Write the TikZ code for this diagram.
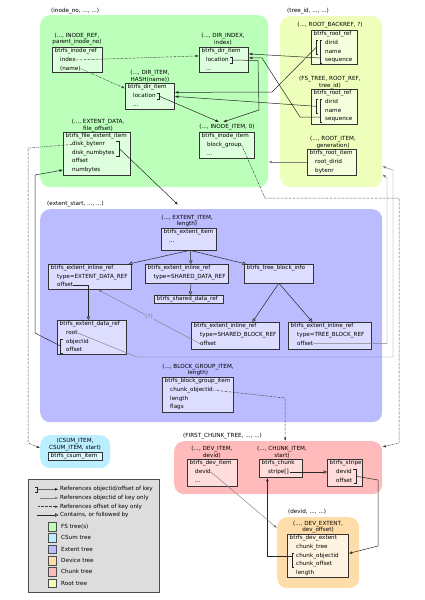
\documentclass[tikz,border=0pt]{standalone}
\usepackage{fontspec}
\setmainfont{DejaVu Sans}
\usetikzlibrary{arrows.meta, positioning, calc}
\definecolor{fsbg}{HTML}{BBFFBB}
\definecolor{fsbox}{HTML}{DDFFDD}
\definecolor{rtbg}{HTML}{EEFFBB}
\definecolor{rtbox}{HTML}{F6FFDD}
\definecolor{exbg}{HTML}{BBBBFF}
\definecolor{exbox}{HTML}{DDDDFF}
\definecolor{csbg}{HTML}{BBEEFF}
\definecolor{csbox}{HTML}{DDF6FF}
\definecolor{chbg}{HTML}{FFBBBB}
\definecolor{chbox}{HTML}{FFDDDD}
\definecolor{dvbg}{HTML}{FFDDAA}
\definecolor{dvbox}{HTML}{FFF4E2}
\definecolor{lgbg}{HTML}{DDDDDD}
\tikzset{
    region/.style={rounded corners=10pt, anchor=north west, inner sep=0},
    sbox/.style={draw=black!80, line width=0.8pt, anchor=north west, inner sep=0},
    fld/.style={anchor=west, inner sep=0, text height=4.2pt, text depth=1.3pt},
    keylbl/.style={align=center, inner sep=0},
    reflbl/.style={anchor=west, inner sep=0},
    swatch/.style={draw=black!70, line width=0.6pt, minimum size=8.5pt, inner sep=0},
    brk/.style={black!85, line width=0.5pt},
    both/.style={->, >={Latex[length=3.5pt, width=2.6pt]}, black!85, line width=0.5pt},
    idonly/.style={->, >={Latex[length=3.5pt, width=2.6pt]}, black!50, line width=0.45pt},
    offonly/.style={->, >={Latex[length=3.5pt, width=2.6pt]}, black!75, line width=0.5pt, dash pattern=on 1.8pt off 0.9pt on 0.5pt off 0.9pt},
    contains/.style={-{Triangle[open, length=3.5pt, width=3.5pt]}, black!85, line width=0.5pt}
}

\begin{document}
\begin{tikzpicture}[x=1pt, y=-1pt, font=\fontsize{5.65}{6.6}\selectfont]
    \useasboundingbox (0,0) rectangle (424,600);
    % Tree regions
    \node[region, fill=fsbg, minimum width=228, minimum height=172] (fs) at (40,15) {};
    \node[region, fill=rtbg, minimum width=102, minimum height=171] (rt) at (280,16) {};
    \node[region, fill=exbg, minimum width=342, minimum height=213] (ex) at (40,209) {};
    \node[region, fill=csbg, minimum width=70, minimum height=33] (cs) at (40,435) {};
    \node[region, fill=chbg, minimum width=208, minimum height=53] (ch) at (174,441) {};
    \node[region, fill=dvbg, minimum width=82, minimum height=71] (dv) at (277,517) {};
    \node[region, sharp corners, fill=lgbg, draw=black!70, line width=0.8pt, minimum width=131, minimum height=113] (lg) at (28,479) {};
    \node[reflbl] (fs-lbl) at (51,11) {(inode\_no, ..., ...)};
    \node[reflbl] (rt-lbl) at (287,11) {(tree\_id, ..., ...)};
    \node[reflbl] (ex-lbl) at (47,204) {(extent\_start, ..., ...)};
    \node[reflbl] (ch-lbl) at (183,436) {(FIRST\_CHUNK\_TREE, ..., ...)};
    \node[reflbl] (dv-lbl) at (288,512) {(devid, ..., ...)};

    % INODE_REF
    \node[keylbl] (iref-k) at (77,39) {(..., INODE\_REF,\\parent\_inode\_no)};
    \node[sbox, fill=fsbox, minimum width=50, minimum height=25] (iref) at (52,47) {};
    \node[fld] (iref-t) at (54.5,51.5) {btrfs\_inode\_ref};
    \node[fld] (iref-index) at (60,60) {index};
    \node[fld] (iref-name) at (60,68.7) {(name)};
    % DIR_INDEX
    \node[keylbl] (dindex-k) at (223,39) {(..., DIR\_INDEX,\\index)};
    \node[sbox, fill=fsbox, minimum width=49, minimum height=25] (dindex) at (199,47) {};
    \node[fld] (dindex-t) at (201.5,51.5) {btrfs\_dir\_item};
    \node[fld] (dindex-loc) at (206,60) {location};
    \node[fld] (dindex-dots) at (206,68.7) {...};
    % DIR_ITEM
    \node[keylbl] (ditem-k) at (150,76) {(..., DIR\_ITEM,\\HASH(name))};
    \node[sbox, fill=fsbox, minimum width=49, minimum height=26] (ditem) at (125,83) {};
    \node[fld] (ditem-t) at (127.5,87.5) {btrfs\_dir\_item};
    \node[fld] (ditem-loc) at (133,96) {location};
    \node[fld] (ditem-dots) at (133,104.7) {...};
    % EXTENT_DATA
    \node[keylbl] (fext-k) at (98,125.5) {(..., EXTENT\_DATA,\\file\_offset)};
    \node[sbox, fill=fsbox, minimum width=67, minimum height=43] (fext) at (63,132) {};
    \node[fld] (fext-t) at (65.5,136) {btrfs\_file\_extent\_item};
    \node[fld] (fext-bytenr) at (72,144.5) {disk\_bytenr};
    \node[fld] (fext-numbytes) at (72,153) {disk\_numbytes};
    \node[fld] (fext-offset) at (72,161.5) {offset};
    \node[fld] (fext-nbytes) at (72,170) {numbytes};
    % INODE_ITEM
    \node[keylbl] (iitem-k) at (227,127) {(..., INODE\_ITEM, 0)};
    \node[sbox, fill=fsbox, minimum width=55, minimum height=26] (iitem) at (199,132) {};
    \node[fld] (iitem-t) at (201.5,136.5) {btrfs\_inode\_item};
    \node[fld] (iitem-bg) at (207,145) {block\_group};
    \node[fld] (iitem-dots) at (207,153.7) {...};

    % ROOT_BACKREF
    \node[keylbl] (rbref-k) at (330,25) {(..., ROOT\_BACKREF, ?)};
    \node[sbox, fill=rtbox, minimum width=46, minimum height=34] (rbref) at (311,30) {};
    \node[fld] (rbref-t) at (313.5,34.5) {btrfs\_root\_ref};
    \node[fld] (rbref-dirid) at (325,43) {dirid};
    \node[fld] (rbref-name) at (325,51.7) {name};
    \node[fld] (rbref-seq) at (325,60.3) {sequence};
    % ROOT_REF
    \node[keylbl] (rref-k) at (330,82.5) {(FS\_TREE, ROOT\_REF,\\tree\_id)};
    \node[sbox, fill=rtbox, minimum width=46, minimum height=35] (rref) at (311,89) {};
    \node[fld] (rref-t) at (313.5,93.5) {btrfs\_root\_ref};
    \node[fld] (rref-dirid) at (325,102) {dirid};
    \node[fld] (rref-name) at (325,110.7) {name};
    \node[fld] (rref-seq) at (325,119.3) {sequence};
    % ROOT_ITEM
    \node[keylbl] (ritem-k) at (333,142.5) {(..., ROOT\_ITEM,\\generation)};
    \node[sbox, fill=rtbox, minimum width=49, minimum height=26] (ritem) at (307,149) {};
    \node[fld] (ritem-t) at (309.5,153.5) {btrfs\_root\_item};
    \node[fld] (ritem-rd) at (315,162) {root\_dirid};
    \node[fld] (ritem-bytenr) at (315,170.7) {bytenr};

    % EXTENT_ITEM
    \node[keylbl] (xitem-k) at (187,221) {(..., EXTENT\_ITEM,\\length)};
    \node[sbox, fill=exbox, minimum width=55, minimum height=22] (xitem) at (161,228) {};
    \node[fld] (xitem-t) at (163.5,232.5) {btrfs\_extent\_item};
    \node[fld] (xitem-dots) at (169,241.5) {...};
    % inline refs
    \node[sbox, fill=exbox, minimum width=83, minimum height=25] (edref) at (48,264) {};
    \node[fld] (edref-t) at (50.5,268.5) {btrfs\_extent\_inline\_ref};
    \node[fld] (edref-type) at (57,277) {type=EXTENT\_DATA\_REF};
    \node[fld] (edref-off) at (57,285.5) {offset};
    \node[sbox, fill=exbox, minimum width=83, minimum height=19] (sdref) at (145,264) {};
    \node[fld] (sdref-t) at (147.5,268.5) {btrfs\_extent\_inline\_ref};
    \node[fld] (sdref-type) at (153.5,277) {type=SHARED\_DATA\_REF};
    \node[sbox, fill=exbox, minimum width=69, minimum height=8] (sdr) at (154,295) {};
    \node[fld] (sdr-t) at (156.5,299) {btrfs\_shared\_data\_ref};
    \node[sbox, fill=exbox, minimum width=69, minimum height=19] (tbinfo) at (244,264) {};
    \node[fld] (tbinfo-t) at (246.5,268.5) {btrfs\_tree\_block\_info};
    \node[sbox, fill=exbox, minimum width=69, minimum height=34] (edr) at (57,320) {};
    \node[fld] (edr-t) at (59.5,324.5) {btrfs\_extent\_data\_ref};
    \node[fld] (edr-root) at (66,333) {root};
    \node[fld] (edr-objid) at (66,341.7) {objectid};
    \node[fld] (edr-off) at (66,350.3) {offset};
    \node[sbox, fill=exbox, minimum width=88, minimum height=27] (sbref) at (191,322) {};
    \node[fld] (sbref-t) at (193.5,326.5) {btrfs\_extent\_inline\_ref};
    \node[fld] (sbref-type) at (200,335) {type=SHARED\_BLOCK\_REF};
    \node[fld] (sbref-off) at (200,343.7) {offset};
    \node[sbox, fill=exbox, minimum width=83, minimum height=27] (tbref) at (288,322) {};
    \node[fld] (tbref-t) at (290.5,326.5) {btrfs\_extent\_inline\_ref};
    \node[fld] (tbref-type) at (297,335) {type=TREE\_BLOCK\_REF};
    \node[fld] (tbref-off) at (297,343.7) {offset};
    % BLOCK_GROUP_ITEM
    \node[keylbl] (bgi-k) at (198,370) {(..., BLOCK\_GROUP\_ITEM,\\length)};
    \node[sbox, fill=exbox, minimum width=71, minimum height=35] (bgi) at (162,377) {};
    \node[fld] (bgi-t) at (164.5,381.5) {btrfs\_block\_group\_item};
    \node[fld] (bgi-cobj) at (170,390) {chunk\_objectid};
    \node[fld] (bgi-len) at (170,398.7) {length};
    \node[fld] (bgi-flags) at (170,407.3) {flags};

    % CSUM_ITEM
    \node[keylbl] (csi-k) at (75,444.5) {(CSUM\_ITEM,\\CSUM\_ITEM, start)};
    \node[sbox, fill=csbox, minimum width=54, minimum height=8] (csi) at (48,452) {};
    \node[fld] (csi-t) at (50.5,456) {btrfs\_csum\_item};

    % DEV_ITEM, CHUNK_ITEM, stripe
    \node[keylbl] (devi-k) at (212,452) {(..., DEV\_ITEM,\\devid)};
    \node[sbox, fill=chbox, minimum width=50, minimum height=27] (devi) at (187,459) {};
    \node[fld] (devi-t) at (189.5,463.5) {btrfs\_dev\_item};
    \node[fld] (devi-devid) at (195,472) {devid};
    \node[fld] (devi-dots) at (195,480.7) {...};
    \node[keylbl] (chk-k) at (282,452) {(..., CHUNK\_ITEM,\\start)};
    \node[sbox, fill=chbox, minimum width=43, minimum height=18] (chk) at (259,459) {};
    \node[fld] (chk-t) at (261.5,463.5) {btrfs\_chunk};
    \node[fld] (chk-stripe) at (268,472) {stripe[]};
    \node[sbox, fill=chbox, minimum width=35, minimum height=27] (strp) at (327,459) {};
    \node[fld] (strp-t) at (329.5,463.5) {btrfs\_stripe};
    \node[fld] (strp-devid) at (336,472) {devid};
    \node[fld] (strp-off) at (336,480.7) {offset};

    % DEV_EXTENT
    \node[keylbl] (dext-k) at (318,527) {(..., DEV\_EXTENT,\\dev\_offset)};
    \node[sbox, fill=dvbox, minimum width=61, minimum height=43] (dext) at (287,534) {};
    \node[fld] (dext-t) at (289.5,538.5) {btrfs\_dev\_extent};
    \node[fld] (dext-ctree) at (296,547) {chunk\_tree};
    \node[fld] (dext-cobj) at (296,555.7) {chunk\_objectid};
    \node[fld] (dext-coff) at (296,564.3) {chunk\_offset};
    \node[fld] (dext-len) at (296,573) {length};

    % Brackets
    \draw[brk] ([xshift=1pt]dindex-loc.north east) -- ++(2,0) |- ([xshift=1pt]dindex-loc.south east);
    \draw[brk] ([xshift=1pt]ditem-loc.north east) -- ++(2,0) |- ([xshift=1pt]ditem-loc.south east);
    \draw[brk] ([xshift=1.5pt]fext-numbytes.east |- fext-bytenr.north) -- ++(3,0) |- ([xshift=1.5pt]fext-numbytes.south east);
    \draw[brk] ([xshift=-7pt]rbref-dirid.north west) -- ++(-2,0) |- ([xshift=-7pt]rbref-name.south west);
    \draw[brk] ([xshift=-3pt]rbref-dirid.north west) -- ++(-2,0) |- ([xshift=-3pt]rbref-seq.south west);
    \draw[brk] ([xshift=-7pt]rref-dirid.north west) -- ++(-2,0) |- ([xshift=-7pt]rref-name.south west);
    \draw[brk] ([xshift=-3pt]rref-dirid.north west) -- ++(-2,0) |- ([xshift=-3pt]rref-seq.south west);
    \draw[brk] ([xshift=-3.5pt]edr-objid.north west) -- ++(-2,0) |- ([xshift=-3.5pt]edr-off.south west);
    \draw[brk] ([xshift=1.5pt]strp-devid.north east) -- ++(3,0) |- ([xshift=1.5pt]strp-off.south east);
    \draw[brk] ([xshift=-2pt]dext-cobj.north west) -- ++(-2,0) |- ([xshift=-2pt]dext-coff.south west);
    \coordinate (fext-b) at (119.4,148.7);
    \coordinate (rbref-b1) at (316,47.5);
    \coordinate (rbref-b2) at (320,58);
    \coordinate (rref-b1) at (316,106.3);
    \coordinate (rref-b2) at (320,117);
    \coordinate (edr-b) at (60.5,346);
    \coordinate (strp-b) at (356.6,476.3);
    \coordinate (dext-b) at (292,556);

    % FS tree references
    \draw[offonly] (iref-index.east) -- ([yshift=4pt]dindex.west);
    \draw[offonly] (iref-name.east) -- ([yshift=8pt]ditem.west);
    \draw[both] ([xshift=3pt]dindex-loc.east) -- (258,60.5) -- (259,110) -- ([xshift=-4pt, yshift=2pt]iitem-k.north);
    \draw[both] ([xshift=3pt]ditem-loc.east) -- ([xshift=-8pt, yshift=2pt]iitem-k.north);
    \draw[both] (fext-b) -- ([xshift=-9pt, yshift=10pt]xitem-k.north);
    \draw[offonly] (fext-bytenr.west) -- (28,148) -- (28,443) -- ([yshift=-13pt]cs.north west);
    \draw[offonly] (iitem-bg.east) -- (265,198) -- (399,198) -- (399,443) -- ([yshift=-6pt]ch.north east);
    % Root tree references
    \draw[both] (rbref-b1) -- (272,92) -- ([yshift=4pt]ditem.east);
    \draw[both] (rbref-b2) -- ([yshift=6pt]dindex.east);
    \draw[both] (rref-b1) -- (ditem.east);
    \draw[both] (rref-b2) -- (300,117) -- (262,58) -- ([yshift=2pt]dindex.east);
    \draw[idonly] (ritem.west |- ritem-rd) -- (fs.east |- ritem-rd);
    % Extent tree references
    \draw[contains] ([xshift=-1pt]xitem.south) -- ([xshift=-3pt]edref.north east);
    \draw[contains] ([xshift=1.5pt]xitem.south) -- ([xshift=4pt]sdref.north);
    \draw[contains] ([xshift=3pt]xitem.south) -- ([xshift=2pt]tbinfo.north west);
    \draw[contains] ([xshift=4pt]sdref.south) -- ([xshift=1.5pt]sdr.north);
    \draw[contains] ([xshift=-0.5pt]tbinfo.south) -- ([xshift=17pt]sbref.north);
    \draw[contains] ([xshift=0.5pt]tbinfo.south) -- ([xshift=-17.5pt]tbref.north);
    \draw[contains] (edref-off.east) -| ([xshift=-3.5pt]edr.north);
    \draw[both] (edr-b) -- (35,333) -- (35,175) -- (fext.west |- fext-nbytes);
    \draw[idonly] (edr-root.east) -- (137,357) -- (393,357) -- (393,170) -- ([yshift=21pt]rt.south east);
    \draw[idonly] (tbref-off.east) -- (387,343.7) -- (387,178) -- ([yshift=13pt]rt.south east);
    \draw[idonly] (sbref-off.west) -- node[fill=exbg, inner sep=0.6pt] (q-lbl) {(?)} ([xshift=8.5pt]edref.south);
    \draw[offonly] (bgi-cobj.east) -- (285,398) -- ([xshift=7pt]ch.north);
    % Chunk and device tree references
    \draw[contains] ([xshift=1pt]chk-stripe.east) -- (strp.west |- chk-stripe);
    \draw[both] (strp-b) -- (378,480) -- (378,546) -- ([yshift=2.5pt]dext.east);
    \draw[both] (dext-b) -| ([xshift=-13.5pt]chk.south);
    \draw[idonly] (devi-devid.east) -- ([yshift=-11pt]dv.north west);

    % Legend
    \node[reflbl] (lg-t1) at (60,489.3) {References objectid/offset of key};
    \node[reflbl] (lg-t2) at (60,498) {References objectid of key only};
    \node[reflbl] (lg-t3) at (60,506.7) {References offset of key only};
    \node[reflbl] (lg-t4) at (60,515) {Contains, or followed by};
    \coordinate (lg-a1) at (37.5,489.5);
    \coordinate (lg-a2) at (40,498);
    \coordinate (lg-a3) at (38,506.7);
    \coordinate (lg-a4) at (37,515);
    \draw[brk] (35,487) -- (37.5,487) |- (35,492);
    \draw[both] (lg-a1) -- ([xshift=-1.5pt]lg-t1.west);
    \draw[idonly] (lg-a2) -- ([xshift=-1.5pt]lg-t2.west);
    \draw[offonly] (lg-a3) -- ([xshift=-1.5pt]lg-t3.west);
    \draw[contains] (lg-a4) -- ([xshift=-1.5pt]lg-t4.west);
    \node[swatch, fill=fsbg] (sw-fs) at (52.5,526.7) {};
    \node[swatch, fill=csbg] (sw-cs) at (52.5,537.7) {};
    \node[swatch, fill=exbg] (sw-ex) at (52.5,549.3) {};
    \node[swatch, fill=dvbg] (sw-dv) at (52.5,560.7) {};
    \node[swatch, fill=chbg] (sw-ch) at (52.5,571.7) {};
    \node[swatch, fill=rtbg] (sw-rt) at (52.5,583.3) {};
    \node[reflbl] (sw-fs-t) at (61,526.7) {FS tree(s)};
    \node[reflbl] (sw-cs-t) at (61,537.7) {CSum tree};
    \node[reflbl] (sw-ex-t) at (61,549.3) {Extent tree};
    \node[reflbl] (sw-dv-t) at (61,560.7) {Device tree};
    \node[reflbl] (sw-ch-t) at (61,571.7) {Chunk tree};
    \node[reflbl] (sw-rt-t) at (61,583.3) {Root tree};
\end{tikzpicture}
\end{document}
